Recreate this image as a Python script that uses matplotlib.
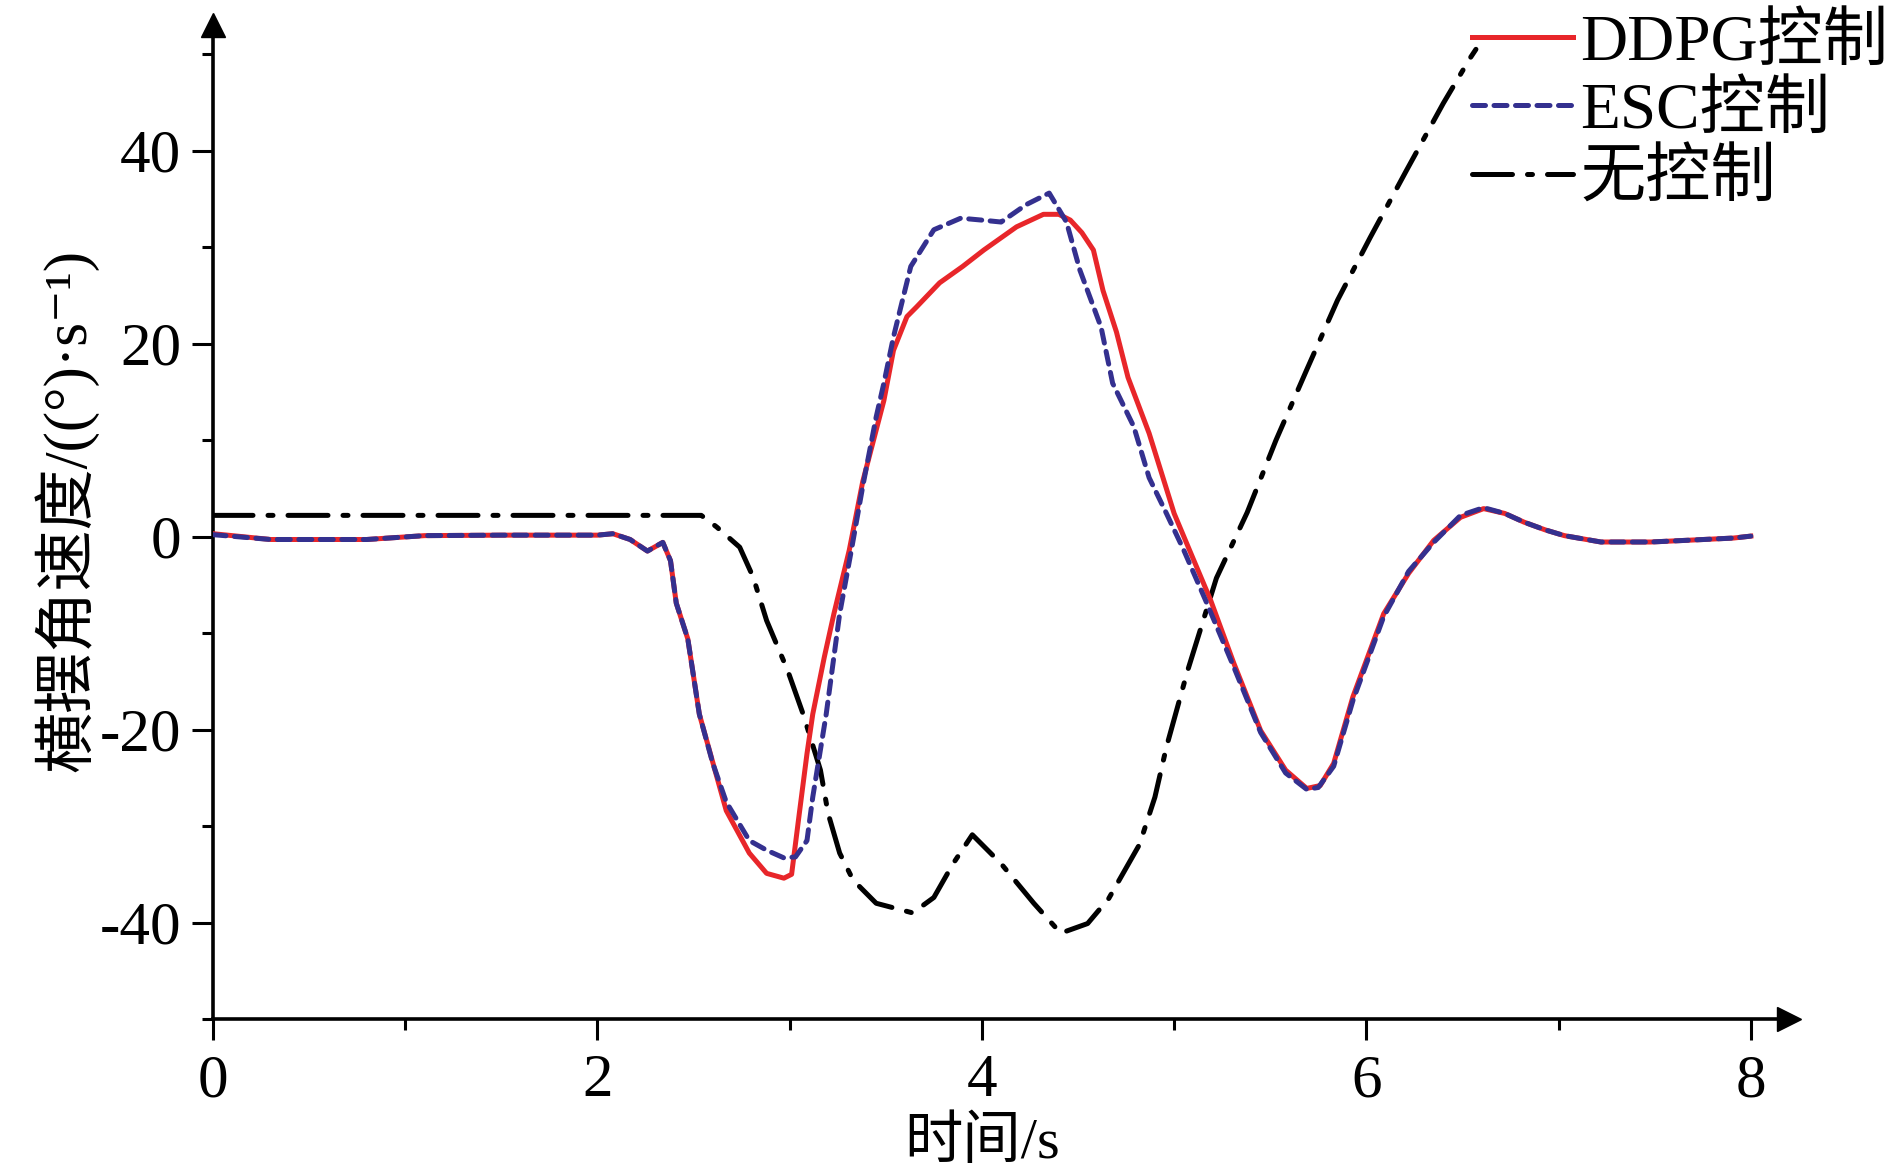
import numpy as np
import matplotlib
matplotlib.use('Agg')
from matplotlib import pyplot as plt
from matplotlib.ticker import MultipleLocator

plt.rcParams['font.family'] = ['Liberation Serif', 'Noto Sans CJK SC', 'DejaVu Serif']
plt.rcParams['axes.unicode_minus'] = False

# 时间 / 横摆角速度 数据
ddpg_t = [0, 0.3, 0.8, 1.1, 1.5, 2.0, 2.08, 2.17, 2.26, 2.34, 2.38, 2.41, 2.47, 2.53,
          2.6, 2.67, 2.79, 2.88, 2.97, 3.01, 3.05, 3.09, 3.12, 3.18, 3.23, 3.31, 3.38,
          3.49, 3.54, 3.61, 3.66, 3.78, 3.9, 4.01, 4.18, 4.32, 4.4, 4.46, 4.52, 4.58,
          4.63, 4.7, 4.76, 4.87, 5.0, 5.08, 5.19, 5.31, 5.45, 5.58, 5.69, 5.76, 5.83,
          5.93, 6.09, 6.22, 6.35, 6.49, 6.61, 6.72, 6.82, 6.93, 7.03, 7.22, 7.48, 7.65,
          7.91, 8.0]
ddpg_v = [0.3, -0.3, -0.3, 0.1, 0.15, 0.15, 0.3, -0.3, -1.5, -0.6, -2.5, -6.9, -10.6,
          -18.4, -23.4, -28.4, -32.8, -34.9, -35.4, -35, -28.7, -22.5, -18.4, -12.5, -8,
          -1.4, 5.7, 14.1, 19.3, 22.8, 23.8, 26.3, 28.0, 29.7, 32.1, 33.4, 33.4, 32.8,
          31.5, 29.7, 25.5, 21.2, 16.5, 10.7, 2.4, -1.4, -6.6, -13.1, -20.1, -24.2, -26.1,
          -25.8, -23.5, -16.6, -8, -3.8, -0.4, 2.0, 2.9, 2.4, 1.5, 0.7, 0.1, -0.56, -0.56,
          -0.4, -0.15, 0.05]

esc_t = [0, 0.3, 0.8, 1.1, 1.5, 2.0, 2.08, 2.17, 2.26, 2.34, 2.38, 2.41, 2.47, 2.53,
         2.6, 2.67, 2.79, 2.88, 2.97, 3.03, 3.09, 3.12, 3.19, 3.26, 3.32, 3.38, 3.45,
         3.49, 3.54, 3.63, 3.75, 3.89, 4.0, 4.1, 4.23, 4.35, 4.44, 4.51, 4.62, 4.68,
         4.79, 4.87, 4.96, 5.05, 5.17, 5.31, 5.45, 5.58, 5.69, 5.75, 5.83, 5.93, 6.09,
         6.22, 6.35, 6.49, 6.61, 6.72, 6.82, 6.93, 7.03, 7.22, 7.48, 7.65, 7.91, 8.0]
esc_v = [0.2, -0.3, -0.3, 0.1, 0.15, 0.15, 0.3, -0.3, -1.5, -0.6, -2.5, -6.9, -10.6,
         -18.4, -23.5, -27.5, -31.5, -32.5, -33.3, -33.2, -31.5, -27, -18.4, -8, -1.5,
         5.2, 12.4, 15.9, 20.7, 28, 31.8, 33, 32.8, 32.6, 34.4, 35.6, 32.6, 27.6, 21.7,
         15.9, 11.4, 6.1, 2.4, -1.4, -6.9, -13.5, -20.3, -24.5, -26.2, -26, -23.8, -17,
         -8.3, -3.6, -0.6, 2.2, 3.0, 2.4, 1.5, 0.7, 0.1, -0.56, -0.56, -0.4, -0.15, 0.05]

none_t = [0, 1.0, 2.0, 2.54, 2.62, 2.74, 2.81, 2.88, 2.99, 3.07, 3.16, 3.2, 3.26, 3.33,
          3.45, 3.64, 3.75, 3.85, 3.95, 4.1, 4.27, 4.41, 4.55, 4.66, 4.82, 4.9, 4.96,
          5.07, 5.22, 5.38, 5.53, 5.69, 5.85, 6.02, 6.21, 6.40, 6.54, 6.57]
none_v = [2.2, 2.2, 2.2, 2.2, 1.0, -1.1, -4.2, -8.7, -13.9, -18.4, -24.2, -28.7, -32.8,
          -35.6, -38, -39, -37.4, -33.9, -30.9, -33.9, -38, -41.1, -40.1, -37.5, -31.9,
          -27, -21.8, -13.9, -4.3, 2.5, 10, 17.3, 24.5, 31, 38, 44.9, 49.6, 50.5]

labels = ['DDPG控制', 'ESC控制', '无控制']

fig = plt.figure(figsize=(18.9, 11.72), dpi=100)
ax = fig.add_axes([0.1127, 0.1305, 0.834, 0.848])

ax.plot(none_t, none_v, color='black', lw=3.6, dashes=(8, 3, 1, 3),
        dash_capstyle='round', label=labels[2], zorder=2)
ax.plot(ddpg_t, ddpg_v, color='#e8262a', lw=3.6, label=labels[0], zorder=3)
ax.plot(esc_t, esc_v, color='#34308f', lw=3.6, dashes=(2.6, 1.7),
        dash_capstyle='round', label=labels[1], zorder=4)

ax.set_xlim(0, 8.2)
ax.set_ylim(-50, 53)

for s in ['top', 'right']:
    ax.spines[s].set_visible(False)
for s in ['left', 'bottom']:
    ax.spines[s].set_linewidth(2.6)

# 坐标轴箭头
ax.plot(1, 0, '>', color='black', ms=17, transform=ax.transAxes, clip_on=False)
ax.plot(0, 1, '^', color='black', ms=17, transform=ax.transAxes, clip_on=False)

ax.xaxis.set_major_locator(MultipleLocator(2))
ax.xaxis.set_minor_locator(MultipleLocator(1))
ax.yaxis.set_major_locator(MultipleLocator(20))
ax.yaxis.set_minor_locator(MultipleLocator(10))
ax.set_yticks([-40, -20, 0, 20, 40])

ax.tick_params(axis='both', which='major', direction='out', length=15, width=2.2)
ax.tick_params(axis='both', which='minor', direction='out', length=8, width=2.2)
ax.tick_params(axis='y', which='major', labelsize=44, pad=8)
ax.tick_params(axis='x', which='major', labelsize=44, pad=10)

ax.set_xlabel('时间/s', fontsize=42, va='center')
ax.xaxis.set_label_coords(0.488, -0.125)
ax.set_ylabel('横摆角速度/((°)·s⁻¹)', fontsize=44, va='center', ha='center')
ax.yaxis.set_label_coords(-0.093, 0.512)

h, l = ax.get_legend_handles_labels()
order = [1, 2, 0]
ax.legend([h[i] for i in order], [l[i] for i in order], loc='upper right',
          bbox_to_anchor=(0.999, 0.988), bbox_transform=fig.transFigure,
          frameon=False, fontsize=47, handlelength=1.56, handletextpad=0.1,
          labelspacing=0.13, borderpad=0.0, borderaxespad=0.0)

plt.savefig('out.png', dpi=100)
